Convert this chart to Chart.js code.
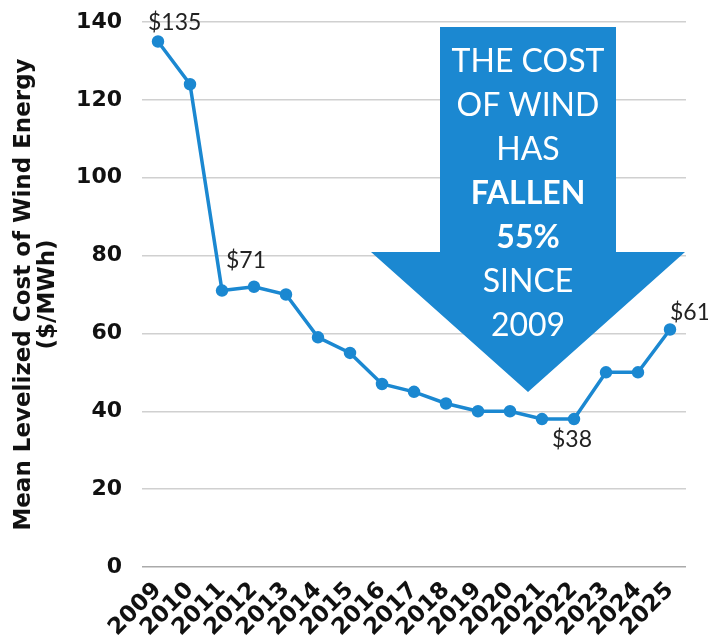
<!DOCTYPE html>
<html>
<head>
<meta charset="utf-8">
<script src="https://cdn.jsdelivr.net/npm/chart.js@4.4.0/dist/chart.umd.min.js"></script>
<style>
  html, body { margin: 0; padding: 0; background: #fff; }
  #wrap { width: 708px; height: 644px; }
</style>
</head>
<body>
<div id="wrap"><canvas id="chart" width="708" height="644"></canvas></div>
<script>
const years = ['2009', '2010', '2011', '2012', '2013', '2014', '2015', '2016', '2017',
  '2018', '2019', '2020', '2021', '2022', '2023', '2024', '2025'];
const cost = [135, 124, 71, 72, 70, 59, 55, 47, 45, 42, 40, 40, 38, 38, 50, 50, 61];
const yTicks = [0, 20, 40, 60, 80, 100, 120, 140];
const calloutIdx = [0, 2, 13, 16];
const arrowLines = [
  ['THE COST', false],
  ['OF WIND', false],
  ['HAS', false],
  ['FALLEN', true],
  ['55%', true],
  ['SINCE', false],
  ['2009', false]
];

const blue = '#1b88d1';
const textFont = 'Lato, "Open Sans", sans-serif';
const axisFont = '"DejaVu Sans", sans-serif';

// big arrow behind the line
const arrowPlugin = {
  id: 'arrow',
  beforeDatasetsDraw(chart) {
    const ctx = chart.ctx;
    const cx = 528;
    ctx.save();
    ctx.fillStyle = blue;
    ctx.beginPath();
    ctx.moveTo(440, 27);
    ctx.lineTo(616, 27);
    ctx.lineTo(616, 252);
    ctx.lineTo(685, 252);
    ctx.lineTo(cx, 392);
    ctx.lineTo(371, 252);
    ctx.lineTo(440, 252);
    ctx.closePath();
    ctx.fill();
    ctx.fillStyle = '#fff';
    ctx.textAlign = 'center';
    ctx.textBaseline = 'middle';
    arrowLines.forEach((l, i) => {
      ctx.font = (l[1] ? 'bold ' : '') + '32px ' + textFont;
      ctx.fillText(l[0], cx, 62 + i * 44);
    });
    ctx.restore();
  }
};

// dollar callouts
const calloutPlugin = {
  id: 'callouts',
  afterDatasetsDraw(chart) {
    const ctx = chart.ctx;
    const pts = chart.getDatasetMeta(0).data;
    const offs = {
      0: [-10, -19, 'left'],
      2: [4, -30, 'left'],
      13: [-2, 21, 'center'],
      16: [0, -17, 'left']
    };
    ctx.save();
    ctx.fillStyle = '#222';
    ctx.font = '23px ' + textFont;
    ctx.textBaseline = 'middle';
    calloutIdx.forEach(i => {
      const o = offs[i];
      ctx.textAlign = o[2];
      ctx.fillText('$' + cost[i], pts[i].x + o[0], pts[i].y + o[1]);
    });
    ctx.restore();
  }
};

new Chart(document.getElementById('chart'), {
  type: 'line',
  data: {
    labels: years,
    datasets: [{
      data: cost,
      borderColor: blue,
      backgroundColor: blue,
      pointBackgroundColor: blue,
      pointBorderColor: blue,
      borderWidth: 3.5,
      pointRadius: 4.5,
      tension: 0
    }]
  },
  options: {
    responsive: false,
    animation: false,
    layout: { autoPadding: false, padding: { top: 22, right: 22, left: 0, bottom: 0 } },
    plugins: {
      legend: { display: false },
      tooltip: { enabled: false }
    },
    scales: {
      x: {
        offset: true,
        grid: { display: false },
        border: { display: false },
        ticks: {
          color: '#111',
          font: { family: axisFont, size: 23, weight: 'bold' },
          maxRotation: 45,
          minRotation: 45,
          autoSkip: false,
          padding: 2
        },
        afterFit(scale) { scale.height = 77; }
      },
      y: {
        min: 0,
        max: 140,
        afterBuildTicks(scale) { scale.ticks = yTicks.map(v => ({ value: v })); },
        grid: {
          color: ctx => ctx.tick && ctx.tick.value === 0 ? '#aaa' : '#d0d0d0',
          lineWidth: 1.5,
          drawTicks: false
        },
        border: { display: false },
        ticks: {
          color: '#111',
          font: { family: axisFont, size: 22, weight: 'bold' },
          padding: 20
        },
        title: {
          display: true,
          text: ['Mean Levelized Cost of Wind Energy', '($/MWh)'],
          color: '#111',
          font: { family: axisFont, size: 23, weight: 'bold', lineHeight: 1.05 },
          padding: { top: 12, bottom: 0 }
        },
        afterFit(scale) {
          scale.width = 142;
          scale.paddingTop = 0;
          scale.paddingBottom = 0;
        }
      }
    }
  },
  plugins: [arrowPlugin, calloutPlugin]
});
</script>
</body>
</html>
